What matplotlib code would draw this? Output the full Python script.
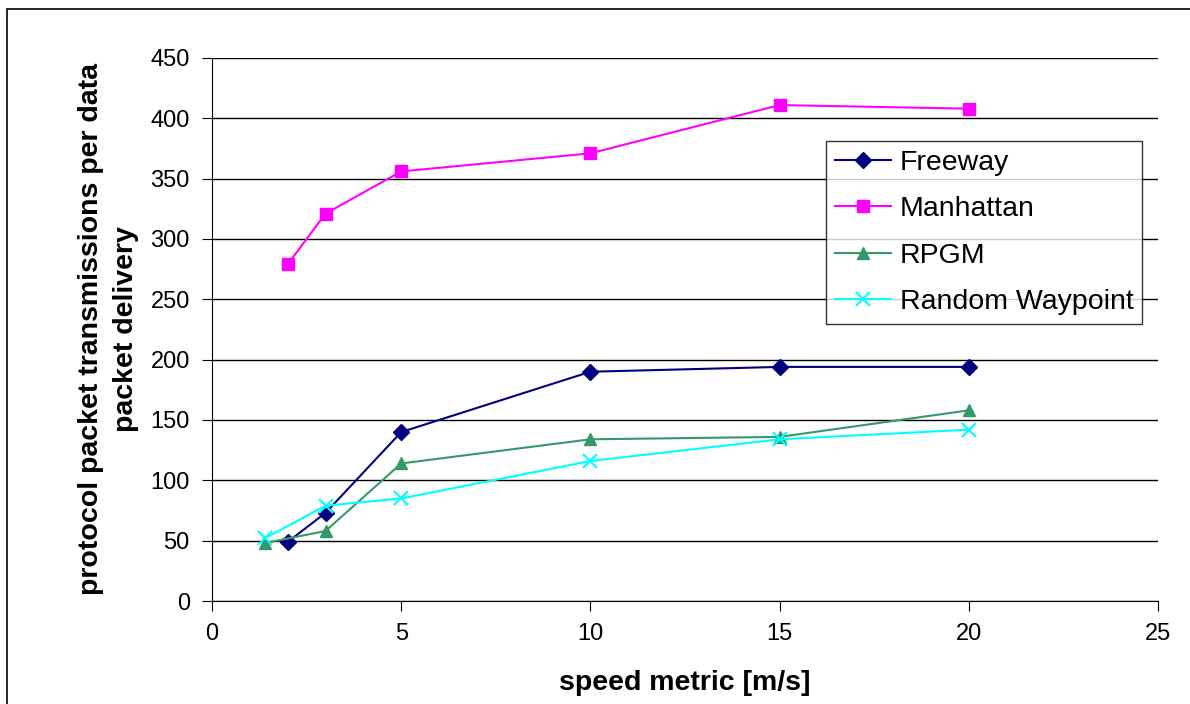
import matplotlib
matplotlib.use('Agg')
import matplotlib.pyplot as plt
from matplotlib.patches import Rectangle

plt.rcParams['font.family'] = ['Liberation Sans', 'DejaVu Sans']

# 데이터
freeway_x = [2, 3, 5, 10, 15, 20]
freeway_y = [49, 73, 140, 190, 194, 194]

manhattan_x = [2, 3, 5, 10, 15, 20]
manhattan_y = [279, 321, 356, 371, 411, 408]

rpgm_x = [1.4, 3, 5, 10, 15, 20]
rpgm_y = [48, 58, 114, 134, 136, 158]

rwp_x = [1.4, 3, 5, 10, 15, 20]
rwp_y = [52, 79, 85, 116, 134, 142]

x_ticks = [0, 5, 10, 15, 20, 25]
y_ticks = [0, 50, 100, 150, 200, 250, 300, 350, 400, 450]

fig = plt.figure(figsize=(11.9, 7.04), dpi=100)
ax = fig.add_axes([212 / 1190, 1 - 601 / 704, (1158 - 212) / 1190, (601 - 58) / 704])

# 바깥 테두리
fig.patches.append(Rectangle((7 / 1190, -0.1), 1.2, 1 - 9 / 704 + 0.1,
                             transform=fig.transFigure, fill=False,
                             edgecolor='black', linewidth=1.2))

ax.plot(freeway_x, freeway_y, color='#000080', marker='D', markersize=8, lw=1.5, label='Freeway')
ax.plot(manhattan_x, manhattan_y, color='#FF00FF', marker='s', markersize=8, lw=1.5, label='Manhattan')
ax.plot(rpgm_x, rpgm_y, color='#339966', marker='^', markersize=9, lw=1.5, label='RPGM')
ax.plot(rwp_x, rwp_y, color='#00FFFF', marker='x', markersize=10, mew=1.5, lw=1.5, label='Random Waypoint')

ax.set_xlim(0, 25)
ax.set_ylim(0, 450)
ax.set_xticks(x_ticks)
ax.set_yticks(y_ticks)
ax.yaxis.grid(True, color='black', linewidth=1)
ax.set_axisbelow(True)
for s in ['top', 'right']:
    ax.spines[s].set_visible(False)
ax.tick_params(direction='out', length=7, labelsize=17, pad=9)

ax.set_xlabel('speed metric [m/s]', fontsize=20.5, fontweight='bold', labelpad=18)
ax.set_ylabel('protocol packet transmissions per data\npacket delivery', fontsize=20.5,
              fontweight='bold', labelpad=8, linespacing=1.45)

leg = ax.legend(loc='upper left', bbox_to_anchor=((826 - 212) / 946, (601 - 141) / 543),
                fontsize=20.5, frameon=True, fancybox=False, edgecolor='black',
                borderpad=0.3, labelspacing=0.72, handlelength=2.0, handletextpad=0.3,
                borderaxespad=0)
leg.get_frame().set_linewidth(1)

fig.savefig('out.png', dpi=100)
